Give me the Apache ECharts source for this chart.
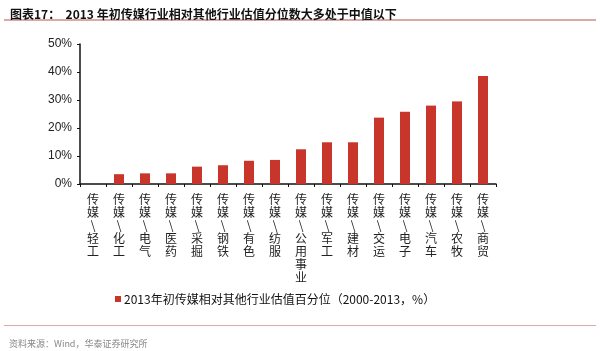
<!DOCTYPE html>
<html>
<head>
<meta charset="utf-8">
<script src="https://cdn.jsdelivr.net/npm/echarts@6/dist/echarts.min.js"></script>
<style>
  html, body { margin: 0; padding: 0; background: #fff; }
  #chart { width: 600px; height: 351px; }
</style>
</head>
<body>
<div id="chart"></div>
<script>
var industries = ['轻工', '化工', '电气', '医药', '采掘', '钢铁', '有色', '纺服', '公用事业',
                  '军工', '建材', '交运', '电子', '汽车', '农牧', '商贸'];
var percentile = [0, 3.5, 3.8, 3.8, 6.2, 6.7, 8.3, 8.6, 12.4,
                  14.9, 14.9, 23.7, 25.8, 28.0, 29.5, 38.6];
var yTicks = [0, 10, 20, 30, 40, 50];
var seriesName = '2013年初传媒相对其他行业估值百分位（2000-2013，%）';

var chartDom = document.getElementById('chart');
var myChart = echarts.init(chartDom);

// vertical labels: one char per line, slash turned sideways
var labels = industries.map(function (name) {
    return ['传', '媒', '\\'].concat(name.split('')).join('\n');
});

var option = {
    animation: false,
    title: [
        {
            text: '图表17：  2013 年初传媒行业相对其他行业估值分位数大多处于中值以下',
            left: 5,
            top: 3,
            textStyle: {
                fontSize: 12,
                fontWeight: 'bold',
                color: '#111',
                fontFamily: 'Noto Sans CJK SC'
            }
        },
        {
            text: '资料来源：Wind，华泰证券研究所',
            left: 4,
            top: 334,
            textStyle: {
                fontSize: 9,
                fontWeight: 'normal',
                color: '#888',
                fontFamily: 'Noto Sans CJK SC'
            }
        }
    ],
    graphic: [
        { type: 'rect', shape: { x: 4, y: 19, width: 592, height: 2 }, style: { fill: '#d9aaa6' } },
        { type: 'rect', shape: { x: 4, y: 325, width: 592, height: 1 }, style: { fill: '#d9aaa6' } }
    ],
    color: ['#c8352b'],
    legend: {
        left: 110,
        top: 288,
        itemWidth: 6,
        itemHeight: 6,
        itemGap: 4,
        icon: 'rect',
        textStyle: {
            fontSize: 12,
            color: '#111',
            fontFamily: 'Noto Sans CJK SC',
            padding: [0, 0, 0, -2]
        },
        data: [seriesName]
    },
    grid: {
        left: 80,
        right: 104,
        top: 44,
        bottom: 167
    },
    xAxis: {
        type: 'category',
        data: labels,
        axisLine: { lineStyle: { color: '#111', width: 1.5 } },
        axisTick: { show: true, length: 3, lineStyle: { color: '#111' } },
        axisLabel: {
            interval: 0,
            margin: 9,
            fontSize: 12,
            lineHeight: 13,
            color: '#222',
            fontFamily: 'Noto Sans CJK SC'
        }
    },
    yAxis: {
        type: 'value',
        min: yTicks[0],
        max: yTicks[yTicks.length - 1],
        interval: 10,
        splitLine: { show: false },
        axisLine: { show: true, lineStyle: { color: '#111', width: 1.5 } },
        axisTick: { show: true, length: 3, lineStyle: { color: '#111' } },
        axisLabel: {
            formatter: '{value}%',
            fontSize: 12,
            margin: 8,
            color: '#222',
            fontFamily: 'Liberation Sans'
        }
    },
    series: [
        {
            name: seriesName,
            type: 'bar',
            barWidth: 10,
            data: percentile
        }
    ]
};

myChart.setOption(option);
</script>
</body>
</html>
